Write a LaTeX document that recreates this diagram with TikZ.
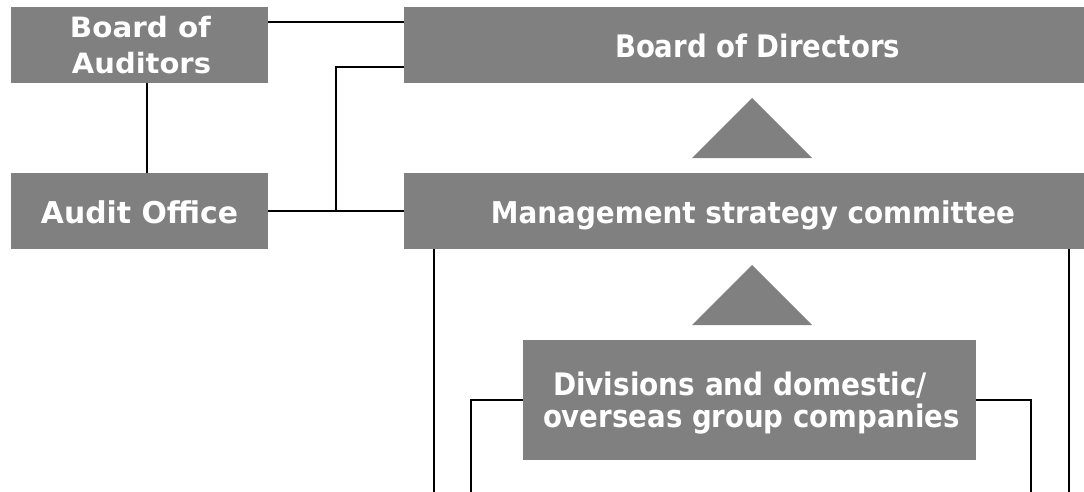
\documentclass[tikz,border=0pt]{standalone}
\usepackage{fontspec}
\setmainfont{DejaVu Sans}
\usepackage{graphicx}
\usetikzlibrary{calc}
\definecolor{boxgray}{HTML}{808080}
% squeeze a label to a given width, keeping its height
\newcommand\fitto[2]{\resizebox{#1}{\height}{#2}}
\begin{document}
\begin{tikzpicture}[x=1pt,y=-1pt,
  orgbox/.style={draw=none,fill=boxgray,inner sep=0pt,minimum width=#1},
  boxtext/.style={text=white,inner sep=0pt,anchor=base,
    font=\fontsize{30}{30}\selectfont\bfseries},
  conn/.style={draw=black,line width=2pt},
  uparrow/.style={fill=boxgray}]
\useasboundingbox (0,0) rectangle (1084,491);
\clip (0,0) rectangle (1084,491);

% boxes
\node[orgbox=257pt,minimum height=76pt] (boa) at (139.5,45) {};
\node[orgbox=257pt,minimum height=76pt] (ao)  at (139.5,211) {};
\node[orgbox=696pt,minimum height=76pt] (bod) at (752,45) {};
\node[orgbox=696pt,minimum height=76pt] (msc) at (752,211) {};
\node[orgbox=453pt,minimum height=120pt] (div) at (749.5,400) {};

% labels
\node[boxtext,font=\fontsize{28}{28}\selectfont\bfseries] (boa-t1) at ([xshift=1pt,yshift=8pt]boa.center) {\fitto{141pt}{Board of}};
\node[boxtext,font=\fontsize{28}{28}\selectfont\bfseries] (boa-t2) at ([xshift=2pt,yshift=-28pt]boa.center) {\fitto{139pt}{Auditors}};
\node[boxtext] (ao-t)  at ([yshift=-12pt]ao.center) {\fitto{197pt}{Audit Office}};
\node[boxtext,font=\fontsize{31}{31}\selectfont\bfseries] (bod-t) at ([xshift=5.5pt,yshift=-12pt]bod.center) {\fitto{285pt}{Board of Directors}};
\node[boxtext] (msc-t) at ([xshift=1pt,yshift=-12pt]msc.center) {\fitto{524pt}{Management strategy committee}};
\node[boxtext,font=\fontsize{31}{31}\selectfont\bfseries] (div-t1) at ([xshift=-9.5pt,yshift=5pt]div.center) {\fitto{374pt}{Divisions and domestic/}};
\node[boxtext,font=\fontsize{31}{31}\selectfont\bfseries] (div-t2) at ([xshift=2pt,yshift=-27pt]div.center) {\fitto{417pt}{overseas group companies}};

% upward triangles between the tiers
\fill[uparrow] (692,158) -- (752,98) -- (812,158) -- cycle;
\fill[uparrow] (692,325) -- (752,265) -- (812,325) -- cycle;

% connectors
\coordinate (junc) at (336,211);
\draw[conn] ([yshift=23pt]boa.east) -- ([yshift=23pt]bod.west);
\draw[conn] ([xshift=7.5pt]boa.south) -- ([xshift=7.5pt]ao.north);
\draw[conn] (ao.east) -- (msc.west);
\draw[conn] ([yshift=-22pt]bod.west) -| (junc);
\draw[conn] ([xshift=30pt]msc.south west) -- ++(0,260);
\draw[conn] ([xshift=-31pt]msc.south east) -- ++(0,260);
\draw[conn] (div.west) -| ++(-52,100);
\draw[conn] (div.east) -| ++(55,100);
\end{tikzpicture}
\end{document}
